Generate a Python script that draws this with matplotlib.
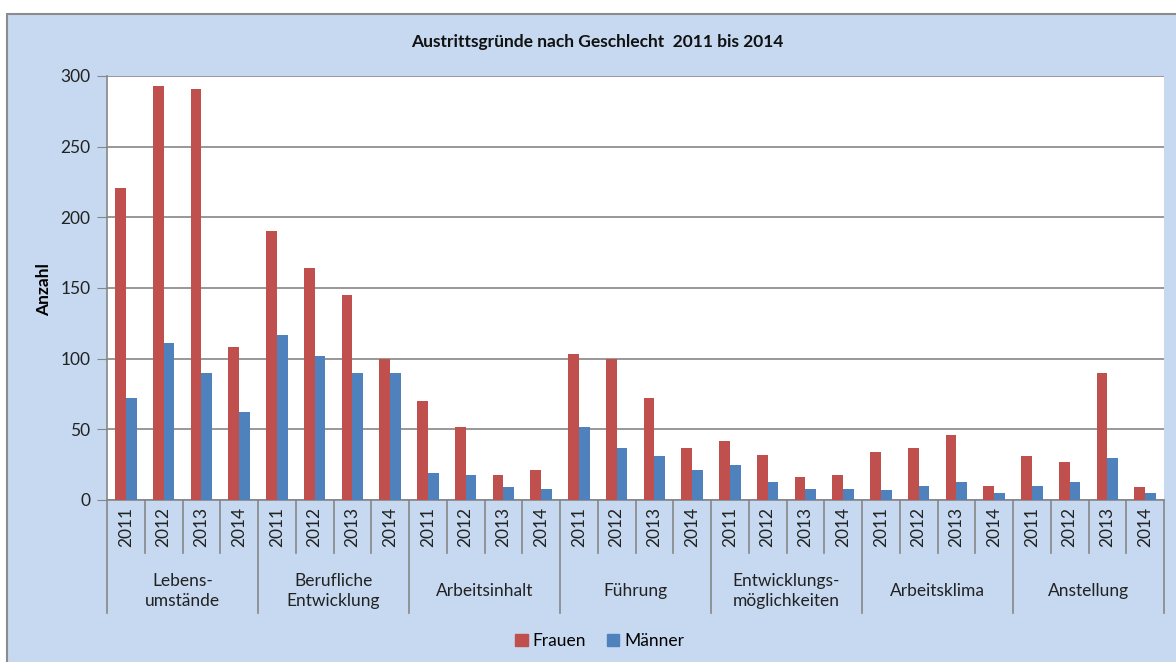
import matplotlib
matplotlib.use("Agg")
import matplotlib.pyplot as plt
from matplotlib.patches import Rectangle, Patch
import numpy as np

plt.rcParams['font.family'] = ['Lato', 'DejaVu Sans']

groups = ["Lebens-\numstände", "Berufliche\nEntwicklung", "Arbeitsinhalt", "Führung",
          "Entwicklungs-\nmöglichkeiten", "Arbeitsklima", "Anstellung"]
years = ["2011", "2012", "2013", "2014"]

frauen = [221, 293, 291, 108,
          190, 164, 145, 100,
          70, 52, 18, 21,
          103, 100, 72, 37,
          42, 32, 16, 18,
          34, 37, 46, 10,
          31, 27, 90, 9]
maenner = [72, 111, 90, 62,
           117, 102, 90, 90,
           19, 18, 9, 8,
           52, 37, 31, 21,
           25, 13, 8, 8,
           7, 10, 13, 5,
           10, 13, 30, 5]

red = "#C0504D"
blue = "#4F81BD"
bg = "#C6D9F0"
grid = "#868686"
fs = 12.5

W, H = 1176, 662
fig = plt.figure(figsize=(W / 100, H / 100), dpi=100)
fig.patch.set_facecolor("white")

# chart area background
fig.patches.append(Rectangle((7 / W, -0.05), 1.1, 1 - 14 / H + 0.05,
                             transform=fig.transFigure, facecolor=bg,
                             edgecolor="#8C8C8C", linewidth=1.5, zorder=-5))

left, right, top, bottom = 107, 1164, 76, 500
ax = fig.add_axes([left / W, 1 - bottom / H, (right - left) / W, (bottom - top) / H])
ax.set_zorder(2)
ax.set_facecolor("white")

n = len(frauen)
x = np.arange(n)
w = 1 / 3.5
ax.bar(x - w / 2, frauen, w, color=red, label="Frauen", zorder=3)
ax.bar(x + w / 2, maenner, w, color=blue, label="Männer", zorder=3)

ax.set_xlim(-0.5, n - 0.5)
ax.set_ylim(0, 300)
ax.set_yticks(range(0, 301, 50))
ax.yaxis.grid(True, color=grid, linewidth=1.2, zorder=0)
ax.set_axisbelow(True)
ax.tick_params(axis="y", length=7, color=grid, labelsize=fs, pad=5, labelcolor="#222222")
ax.set_xticks([])
for s in ["top", "right"]:
    ax.spines[s].set_visible(False)
ax.spines["left"].set_color(grid)
ax.spines["bottom"].set_color(grid)
ax.spines["left"].set_linewidth(1.2)
ax.spines["bottom"].set_linewidth(1.2)

ph = bottom - top
pw = right - left
tr = ax.get_xaxis_transform()
# separators
for b in np.arange(-0.5, n, 1):
    big = (round(b + 0.5) % 4 == 0)
    depth = (613 - bottom) / ph if big else (553 - bottom) / ph
    ax.plot([b, b], [0, -depth], transform=tr, color=grid, linewidth=1.2,
            clip_on=False, zorder=1)

for i in range(n):
    ax.text(i, -(527 - bottom) / ph, years[i % 4], transform=tr, rotation=90,
            ha="center", va="center", fontsize=fs, color="#222222")

for g, name in enumerate(groups):
    ax.text(g * 4 + 1.5, -(591 - bottom) / ph, name, transform=tr, ha="center",
            va="center", fontsize=fs, linespacing=1.3, color="#222222")

ax.set_ylabel("Anzahl", fontsize=fs, fontweight="bold")
ax.yaxis.set_label_coords((52 - left) / pw, (bottom - 290) / ph)

fig.text(597 / W, 1 - 42 / H, "Austrittsgründe nach Geschlecht  2011 bis 2014",
         ha="center", va="center", fontsize=fs, fontweight="bold", color="#111111")

handles = [Patch(color=red), Patch(color=blue)]
fig.legend(handles, ["Frauen", "Männer"], loc="center", bbox_to_anchor=(600 / W, 1 - 641 / H),
           ncol=2, frameon=False, fontsize=fs, handlelength=0.7, handleheight=0.7,
           handletextpad=0.3, columnspacing=1.2)

fig.savefig("out.png", dpi=100, facecolor=fig.get_facecolor())
